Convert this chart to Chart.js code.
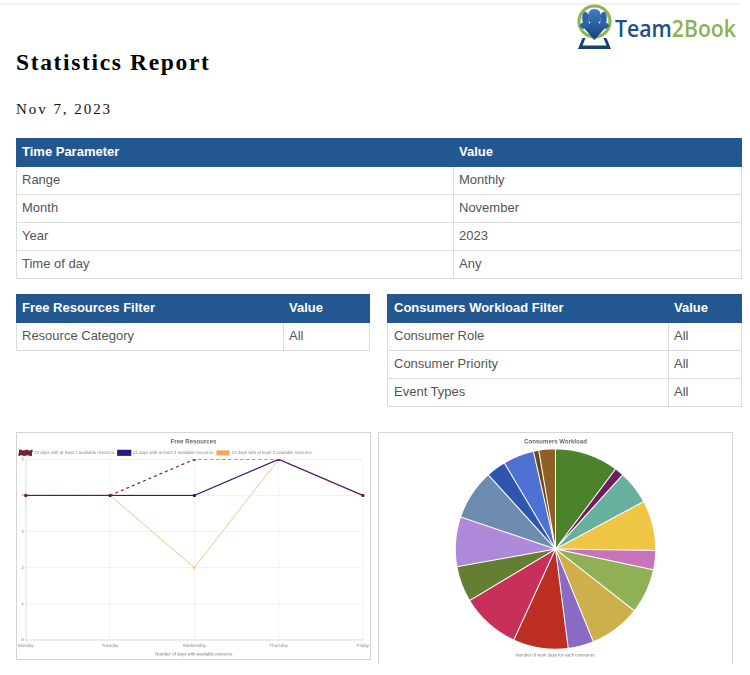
<!DOCTYPE html>
<html><head><meta charset="utf-8">
<script src="https://cdn.jsdelivr.net/npm/chart.js@4"></script>
<style>
html,body{margin:0;padding:0;background:#fff;width:750px;height:675px;overflow:hidden}
body{position:relative;font-family:"Liberation Sans",Arial,sans-serif}
.abs{position:absolute}
#strip{left:0;top:3px;width:740px;height:2px;background:#f1f1f1}
h1{margin:0;left:16px;top:47px;font:bold 23.5px/30px "Liberation Serif",serif;letter-spacing:1.65px;color:#000}
#date{left:16px;top:99px;font:15px/20px "Liberation Serif",serif;letter-spacing:1.95px;color:#111}
table{position:absolute;border-collapse:collapse;table-layout:fixed;font-size:13px;color:#555}
th{background:#22578f;color:#fff;text-align:left;font-weight:bold;height:28px;padding:0 5px 2px;border:1px solid #22578f;box-sizing:border-box}
td{height:28px;padding:0 5px 2px;border:1px solid #ddd;box-sizing:border-box}
.box{position:absolute;border:1px solid #d5d5d5;box-sizing:border-box;background:#fff}
canvas{display:block}
</style></head><body>
<div id="strip" class="abs"></div>
<svg class="abs" style="left:570px;top:0" width="175" height="54" viewBox="0 0 175 54">
  <defs><linearGradient id="g" x1="0" y1="0" x2="0" y2="1"><stop offset="0" stop-color="#3f7fc4"/><stop offset="1" stop-color="#153f78"/></linearGradient></defs>
  <circle cx="24.500" cy="21.500" r="15.500" fill="none" stroke="#8db653" stroke-width="3.200"/>
  <path d="M15 12c2.500 0 3.500 2 3.500 5l.5 8-6 4-3.500-3c1-2 2-3 3.500-3.500-1.500-3-1-10.500 2-10.500zM34 12c-2.500 0-3.500 2-3.500 5l-.5 8 6 4 3.500-3c-1-2-2-3-3.500-3.500 1.500-3 1-10.500-2-10.500z" fill="#2a64a8"/>
  <path d="M24.500 9c4.500 0 6.500 3.500 6.500 7.500 0 3-1 5-2.500 6.500 3.500 1 6 2.500 7.500 4l-11.500 13-11.500-13c1.500-1.500 4-3 7.500-4-1.500-1.500-2.500-3.500-2.500-6.500 0-4 2-7.500 6.500-7.500z" fill="url(#g)"/>
  <path d="M12.500 38h3l-3 7.500h24l-3-7.500h3l4.500 11h-33z" fill="#16406f"/>
  <text x="45" y="37" font-family="Open Sans" font-weight="600" font-size="23.500" textLength="121" lengthAdjust="spacingAndGlyphs"><tspan fill="#1f4f86">Team</tspan><tspan fill="#8db255">2Book</tspan></text>
</svg>
<h1 class="abs">Statistics Report</h1>
<div id="date" class="abs">Nov 7, 2023</div>
<div id="tables"></div>
<div class="box" style="left:16px;top:432px;width:355px;height:228px"><canvas id="lineChart" width="353" height="226"></canvas></div>
<div class="box" style="left:378px;top:432px;width:355px;height:232px;border-bottom:none"><canvas id="pieChart" width="353" height="231"></canvas></div>
<script>
const timeHeader = ["Time Parameter", "Value"];
const timeRows = [["Range","Monthly"],["Month","November"],["Year","2023"],["Time of day","Any"]];
const resHeader = ["Free Resources Filter", "Value"];
const resRows = [["Resource Category","All"]];
const consHeader = ["Consumers Workload Filter", "Value"];
const consRows = [["Consumer Role","All"],["Consumer Priority","All"],["Event Types","All"]];

const weekdays = ["Monday","Tuesday","Wednesday","Thursday","Friday"];
const yTicks = [0,1,2,3,4,5];
const atLeast1 = [4,4,5,5,4];
const atLeast2 = [4,4,4,5,4];
const atLeast3 = [4,4,2,5,4];
const lineLabels = ["22 days with at least 1 available resource.","21 days with at least 2 available resource.","19 days with at least 3 available resource."];

const consumerWorkload = [11.9,1.7,6.3,9.4,3.6,8.4,9.6,4.8,10.3,11.1,6.7,9.3,9.4,3.7,5.8,1.0,3.1];
const consumerColors = ["#4a832a","#6f1d5e","#68b09e","#efc544","#c874bc","#8fb055","#cdb04c","#8a6ac2","#bd2e22","#c93059","#647e33","#ae89da","#6d8bae","#2f55b0","#4e72d3","#6a4a1c","#8f5f25"];
const consumerLabels = consumerWorkload.map((_, i) => "Consumer " + (i + 1));

function makeTable(header, rows, left, top, col1, col2, firstPad){
  const t = document.createElement('table');
  t.style.left = left + 'px'; t.style.top = top + 'px'; t.style.width = (col1 + col2) + 'px';
  let h = `<colgroup><col style="width:${col1}px"><col style="width:${col2}px"></colgroup>`;
  h += '<tr>' + header.map((c, i) => `<th style="${i === 0 ? 'padding-left:' + firstPad + 'px' : ''}">${c}</th>`).join('') + '</tr>';
  rows.forEach(r => { h += '<tr>' + r.map((c, i) => `<td style="${i === 0 ? 'padding-left:' + firstPad + 'px' : ''}">${c}</td>`).join('') + '</tr>'; });
  t.innerHTML = h;
  document.getElementById('tables').appendChild(t);
}
makeTable(timeHeader, timeRows, 16, 138, 437, 288, 5);
makeTable(resHeader, resRows, 16, 294, 267, 86, 5);
makeTable(consHeader, consRows, 387, 294, 281, 73, 6);

Chart.defaults.animation = false;
Chart.defaults.font.family = '"Liberation Sans", Arial, sans-serif';
Chart.defaults.font.size = 4.4;
Chart.defaults.color = '#777';

const gridColor = 'rgba(0,0,0,0.05)';
const tightLegend = { id: 'tightLegend', beforeInit(chart) {
  const fit = chart.legend.fit;
  chart.legend.fit = function () { fit.call(this); this.height -= 6; };
} };
new Chart(document.getElementById('lineChart'), {
  type: 'line',
  plugins: [tightLegend],
  data: { labels: weekdays, datasets: [
    { label: lineLabels[0], data: atLeast1, borderColor: '#7a1f2e', backgroundColor: '#7a1f2e', borderWidth: 1.2, borderDash: [3,3], pointRadius: 1, tension: 0, fill: false },
    { label: lineLabels[1], data: atLeast2, borderColor: '#2a1a80', backgroundColor: '#2a1a80', borderWidth: 1.2, pointRadius: 1, tension: 0, fill: false },
    { label: lineLabels[2], data: atLeast3, borderColor: '#f5cfa0', backgroundColor: '#efa75a', borderWidth: 1, pointRadius: 1, tension: 0, fill: false }
  ]},
  options: {
    responsive: false, devicePixelRatio: 2,
    layout: { padding: { left: 0, right: 0, top: 0, bottom: 1 } },
    plugins: {
      title: { display: true, text: 'Free Resources', font: { size: 6.1, weight: 'bold' }, color: '#666', padding: { top: 5, bottom: 3 } },
      legend: { align: 'start', labels: { boxWidth: 13, boxHeight: 5, padding: 2, font: { size: 4.4 }, color: '#888' } }
    },
    scales: {
      x: { grid: { color: gridColor, tickLength: 2 }, ticks: { padding: 1, maxRotation: 0, autoSkip: false, font: { size: 4.4 }, color: '#888' }, title: { display: true, text: 'Number of days with available resource.', font: { size: 4.4 }, color: '#777', padding: { top: 2.5, bottom: 1 } } },
      y: { min: yTicks[0], max: yTicks[yTicks.length - 1], grid: { color: gridColor, tickLength: 1 }, ticks: { stepSize: 1, padding: 1, font: { size: 4.4 }, color: '#888' } }
    }
  }
});

new Chart(document.getElementById('pieChart'), {
  type: 'pie',
  data: { labels: consumerLabels, datasets: [{ data: consumerWorkload, backgroundColor: consumerColors, borderColor: '#fff', borderWidth: 1 }] },
  options: {
    responsive: false, devicePixelRatio: 2,
    plugins: {
      legend: { display: false },
      title: { display: true, text: 'Consumers Workload', font: { size: 6.1, weight: 'bold' }, color: '#666', padding: { top: 5, bottom: 3 } },
      subtitle: { display: true, position: 'bottom', text: 'Number of work days for each consumer.', font: { size: 4.4 }, color: '#777', padding: { top: 3, bottom: 6 } }
    }
  }
});
</script>
</body></html>
